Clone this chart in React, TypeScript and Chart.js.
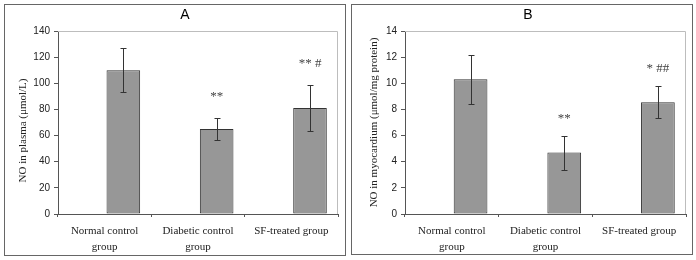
import React, { useEffect, useRef } from "react";
import { Chart, registerables } from "chart.js";

Chart.register(...registerables);

const categories: (string | string[])[] = [
  ["Normal control", "group"],
  ["Diabetic control", "group"],
  "SF-treated group",
];

const plasmaNO = [110, 65, 81];
const plasmaErr = [17, 8.5, 17.5];
const plasmaSig = ["", "**", "** #"];
const plasmaTicks = { min: 0, max: 140, step: 20 };

const myoNO = [10.3, 4.7, 8.55];
const myoErr = [1.9, 1.3, 1.23];
const myoSig = ["", "**", "* ##"];
const myoTicks = { min: 0, max: 14, step: 2 };

const SERIF = "'Liberation Serif', 'Times New Roman', serif";
const SANS = "'Liberation Sans', Arial, sans-serif";

const decorPlugin = {
  id: "panelDecor",
  afterDatasetsDraw(chart: any, _args: any, opts: any) {
    const ctx = chart.ctx;
    const area = chart.chartArea;
    const y = chart.scales.y;
    ctx.save();
    // plot frame top/right
    ctx.strokeStyle = "#bdbdbd";
    ctx.lineWidth = 1;
    ctx.beginPath();
    ctx.moveTo(area.left, area.top + 0.5);
    ctx.lineTo(area.right - 0.5, area.top + 0.5);
    ctx.lineTo(area.right - 0.5, area.bottom);
    ctx.stroke();

    // error bars
    const meta = chart.getDatasetMeta(1);
    ctx.strokeStyle = "#333";
    ctx.lineWidth = 1;
    meta.data.forEach((el: any, i: number) => {
      const v = opts.values[i];
      const e = opts.errors[i];
      const x = Math.round(el.x) + 0.5;
      const yt = Math.round(y.getPixelForValue(v + e)) + 0.5;
      const yb = Math.round(y.getPixelForValue(v - e)) + 0.5;
      ctx.beginPath();
      ctx.moveTo(x, yt);
      ctx.lineTo(x, yb);
      ctx.moveTo(x - 3, yt);
      ctx.lineTo(x + 3, yt);
      ctx.moveTo(x - 3, yb);
      ctx.lineTo(x + 3, yb);
      ctx.stroke();
      const s = opts.sig[i];
      if (s) {
        ctx.fillStyle = "#444";
        ctx.font = `13px ${SERIF}`;
        ctx.textAlign = "center";
        ctx.textBaseline = "middle";
        ctx.fillText(s, el.x, yt - opts.sigGap);
      }
    });

    // chart title
    ctx.fillStyle = "#000";
    ctx.font = `14px ${SANS}`;
    ctx.textAlign = "center";
    ctx.textBaseline = "middle";
    ctx.fillText(opts.title, opts.titleX, 10);

    // y axis title
    ctx.font = `11px ${SERIF}`;
    ctx.fillStyle = "#222";
    ctx.translate(opts.yTitleX, (area.top + area.bottom) / 2 + opts.yTitleDy);
    ctx.rotate(-Math.PI / 2);
    ctx.fillText(opts.yTitle, 0, 0);
    ctx.restore();
  },
};

function Panel(props: {
  values: number[];
  errors: number[];
  sig: string[];
  ticks: { min: number; max: number; step: number };
  title: string;
  titleX: number;
  yTitle: string;
  yTitleX: number;
  yTitleDy: number;
  padRight: number;
  sigGap: number;
}) {
  const ref = useRef<HTMLCanvasElement>(null);
  useEffect(() => {
    const chart = new Chart(ref.current!, {
      type: "bar",
      data: {
        labels: categories,
        datasets: [
          {
            data: props.values.map(() => 0),
            backgroundColor: "rgba(0,0,0,0)",
            borderWidth: 0,
          },
          {
            data: props.values,
            backgroundColor: "#979797",
            borderColor: "#333333",
            borderWidth: 1,
            borderSkipped: false,
          },
        ],
      },
      options: {
        animation: false,
        responsive: false,
        maintainAspectRatio: false,
        events: [],
        layout: { padding: { top: 26, right: props.padRight, left: 0, bottom: 0 } },
        plugins: {
          legend: { display: false },
          tooltip: { enabled: false },
          title: { display: false },
          panelDecor: {
            values: props.values,
            errors: props.errors,
            sig: props.sig,
            title: props.title,
            titleX: props.titleX,
            yTitle: props.yTitle,
            yTitleX: props.yTitleX,
            yTitleDy: props.yTitleDy,
            sigGap: props.sigGap,
          },
        } as any,
        scales: {
          x: {
            offset: true,
            categoryPercentage: 0.58,
            barPercentage: 1,
            grid: {
              display: true,
              offset: true,
              drawOnChartArea: false,
              tickLength: 3,
              color: "#555",
            },
            border: { color: "#555", width: 1 },
            ticks: {
              color: "#222",
              font: { family: SERIF, size: 11, lineHeight: 1.45 },
              padding: 6,
              maxRotation: 0,
              autoSkip: false,
            },
            afterFit: (s: any) => {
              s.height = 41;
            },
          } as any,
          y: {
            min: props.ticks.min,
            max: props.ticks.max,
            grid: {
              drawOnChartArea: false,
              tickLength: 4,
              color: "#555",
            },
            border: { color: "#555", width: 1 },
            ticks: {
              stepSize: props.ticks.step,
              color: "#222",
              font: { family: SANS, size: 10 },
              padding: 4,
            },
            afterFit: (s: any) => {
              s.width = 53;
            },
          },
        },
      } as any,
      plugins: [decorPlugin],
    });
    return () => chart.destroy();
  }, []);
  return <canvas ref={ref} width={340} height={250} style={{ display: "block" }} />;
}

export default function App() {
  return (
    <div
      style={{
        position: "fixed",
        left: 0,
        top: 0,
        width: 696,
        height: 260,
        background: "#fff",
      }}
    >
      <div
        style={{
          position: "absolute",
          left: 4,
          top: 4,
          width: 342,
          height: 252,
          boxSizing: "border-box",
          border: "1px solid #666",
        }}
      >
        <Panel
          values={plasmaNO}
          errors={plasmaErr}
          sig={plasmaSig}
          ticks={plasmaTicks}
          title="A"
          titleX={180}
          yTitle="NO in plasma (μmol/L)"
          yTitleX={18}
          yTitleDy={8}
          padRight={7}
          sigGap={22}
        />
      </div>
      <div
        style={{
          position: "absolute",
          left: 351,
          top: 4,
          width: 342,
          height: 251,
          boxSizing: "border-box",
          border: "1px solid #666",
        }}
      >
        <Panel
          values={myoNO}
          errors={myoErr}
          sig={myoSig}
          ticks={myoTicks}
          title="B"
          titleX={176}
          yTitle="NO in myocardium (μmol/mg protein)"
          yTitleX={22}
          yTitleDy={0}
          padRight={6}
          sigGap={18}
        />
      </div>
    </div>
  );
}
